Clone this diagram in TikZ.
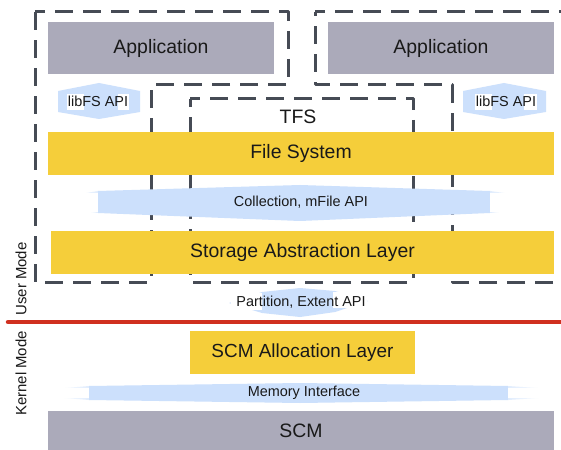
\documentclass[tikz,border=0pt]{standalone}
\usepackage{fontspec}
\setmainfont{Liberation Sans}
\definecolor{appgray}{RGB}{171,170,186}
\definecolor{fsyellow}{RGB}{245,206,58}
\definecolor{apiblue}{RGB}{204,224,252}
\definecolor{dashgray}{RGB}{70,75,85}
\definecolor{modered}{RGB}{208,48,32}
\definecolor{txt}{RGB}{25,25,25}
\begin{document}
\begin{tikzpicture}[x=1bp,y=-1bp,
  box/.style={inner sep=0pt,outer sep=0pt,text=txt,font=\fontsize{19.5}{20}\selectfont},
  appbox/.style={box,fill=appgray},
  layerbox/.style={box,fill=fsyellow},
  outline/.style={draw=dashgray,line width=3bp,dash pattern=on 18bp off 10bp,dash phase=8bp,line join=round},
  apilabel/.style={inner sep=0pt,text=txt,font=\fontsize{14.5}{15}\selectfont},
  modelabel/.style={inner sep=0pt,text=txt,font=\fontsize{15}{15}\selectfont,rotate=90},
]
\useasboundingbox (0,0) rectangle (561,450);
\fill[white] (0,0) rectangle (561,450);
\begin{scope}
\clip (0,0) rectangle (561,450);
% dashed outlines
\draw[outline] (35,12) -- (288,12) -- (288,85) -- (151,85) -- (151,282) -- (35,282) -- cycle;
\draw[outline] (190,99) -- (413,99) -- (413,282) -- (190,282) -- cycle;
\draw[outline] (315,12) -- (575,12) -- (575,282) -- (452,282) -- (452,85) -- (315,85) -- cycle;
\end{scope}

% application boxes
\node[appbox,minimum width=226bp,minimum height=52bp] (app1) at (161,48) {Application};
\node[appbox,minimum width=226bp,minimum height=52bp] (app2) at (441,48) {Application};

% libFS API arrows
\fill[apiblue] (99,83) -- (140,91) -- (140,112) -- (99,119) -- (58,112) -- (58,91) -- cycle;
\fill[white] (67,94) rectangle (84,110);
\fill[white] (118,94) rectangle (129,110);
\node[apilabel] (lib1) at (98,101) {libFS API};
\fill[apiblue] (504,83) -- (546,91) -- (546,112) -- (504,119) -- (463,112) -- (463,91) -- cycle;
\fill[white] (475,94) rectangle (492,110);
\fill[white] (524,94) rectangle (537,110);
\node[apilabel] (lib2) at (506,101) {libFS API};

% TFS label
\node[box] (tfs) at (298,117) {TFS};

% file system
\node[layerbox,minimum width=506bp,minimum height=43bp] (fs) at (301,153.5) {File System};

% collection arrow
\shade[left color=white,right color=apiblue!60] (63,197) -- (98,191) -- (98,213) -- (63,208) -- cycle;
\fill[white] (63,193) rectangle (98,212);
\fill[apiblue] (98,191) -- (300,185) -- (490,191) -- (490,213) -- (300,221) -- (98,213) -- cycle;
\shade[left color=apiblue!60,right color=white] (490,191) -- (533,197) -- (533,208) -- (490,213) -- cycle;
\fill[white] (490,193) rectangle (533,212);
\node[apilabel] (coll) at (301,202) {Collection, mFile API};

% storage abstraction layer
\node[layerbox,minimum width=503bp,minimum height=43bp] (sal) at (302.5,252.5) {Storage Abstraction Layer};

% partition arrow
\fill[apiblue] (229,303) -- (262,292) -- (300,288) -- (335,291) -- (368,301) -- (335,312) -- (300,317) -- (262,313) -- cycle;
\fill[white] (231,293) rectangle (262,310);
\fill[white] (333,292) rectangle (367,308);
\node[apilabel] (part) at (301,302) {Partition, Extent API};

% user / kernel boundary
\draw[modered,line width=4.5bp,line cap=round] (8,322) -- (565,322);
\node[modelabel] (um) at (21,279) {User Mode};
\node[modelabel] (km) at (21,373.5) {Kernel Mode};

% SCM allocation layer
\node[layerbox,minimum width=225bp,minimum height=43bp,font=\fontsize{19}{20}\selectfont] (scmal) at (302.5,352.5) {SCM Allocation Layer};

% memory interface
\shade[left color=white,right color=apiblue!60] (53,389) -- (89,386) -- (89,400) -- (53,397) -- cycle;
\fill[white] (53,388) rectangle (89,398);
\fill[apiblue] (89,386) -- (300,383) -- (508,386) -- (508,400) -- (300,403) -- (89,400) -- cycle;
\shade[left color=apiblue!60,right color=white] (508,386) -- (553,389) -- (553,397) -- (508,400) -- cycle;
\fill[white] (508,388) rectangle (553,398);
\node[apilabel] (mem) at (304,393) {Memory Interface};

% SCM
\node[appbox,minimum width=506bp,minimum height=41bp] (scm) at (301,431) {SCM};
\end{tikzpicture}
\end{document}
